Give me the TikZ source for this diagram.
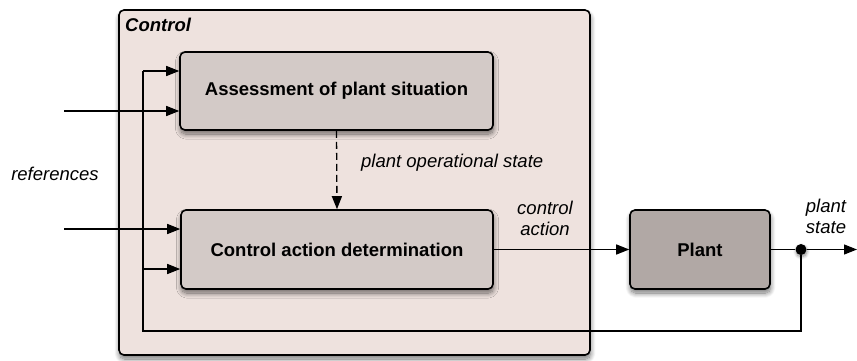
\documentclass[tikz,border=0pt]{standalone}
\usepackage{fontspec}
\setmainfont{Liberation Sans}
\usetikzlibrary{arrows.meta,shadows.blur}
\definecolor{ctrlfill}{HTML}{EEE2DE}
\definecolor{subfill}{HTML}{D3CAC7}
\definecolor{plantfill}{HTML}{B1A8A5}
\tikzset{
  boxshadow/.style={blur shadow={shadow blur steps=12,shadow xshift=0.5pt,shadow yshift=-4pt,shadow opacity=55,shadow blur radius=5pt}},
  ctrlbox/.style={draw=black,line width=1.6pt,rounded corners=5pt,fill=ctrlfill,inner sep=0pt,boxshadow},
  subbox/.style={draw=black,line width=1.6pt,rounded corners=5pt,fill=subfill,inner sep=0pt,font=\bfseries\fontsize{18.5}{21}\selectfont,boxshadow},
  plantbox/.style={subbox,fill=plantfill},
  wire/.style={draw=black,line width=1.3pt},
  arr/.style={wire,-{Triangle[length=13pt,width=10pt]}},
  lbl/.style={font=\itshape\fontsize{18.5}{21}\selectfont,inner sep=0pt,align=center},
  junction/.style={circle,fill=black,inner sep=0pt,minimum size=11pt,blur shadow={shadow blur steps=6,shadow xshift=0.5pt,shadow yshift=-2pt,shadow opacity=45,shadow blur radius=3pt}},
}
\begin{document}
\begin{tikzpicture}[x=1pt,y=-1pt]
\useasboundingbox (0,0) rectangle (857,360);

% outer controller frame
\node[ctrlbox,minimum width=471pt,minimum height=345pt] (ctrl) at (354.5,182.5) {};
\node[font=\bfseries\itshape\fontsize{18.5}{21}\selectfont,anchor=west,inner sep=0pt] (ctrltitle) at (125,25) {Control};

% function blocks
\node[subbox,minimum width=313pt,minimum height=78pt] (assess) at (336.5,91) {Assessment of plant situation};
\node[subbox,minimum width=312pt,minimum height=79pt] (cad) at (337,249.5) {Control action determination};
\node[plantbox,minimum width=140pt,minimum height=79pt] (plant) at (700,249.5) {Plant};

% measurement junction and signal ends
\node[junction] (dot) at (801,249.5) {};
\coordinate (out) at (857,249.5);
\coordinate (ref1) at (64,111);
\coordinate (ref2) at (64,229);
\coordinate (fb) at (143,331);
\coordinate (fbtop) at (143,71);
\coordinate (fbmid) at (143,269);

% reference inputs
\draw[arr] (ref1) -- (ref1 -| assess.west);
\draw[arr] (ref2) -- (ref2 -| cad.west);

% feedback loop
\draw[wire] (dot) |- (fb) -- (fbtop);
\draw[arr] (fbtop) -- (fbtop -| assess.west);
\draw[arr] (fbmid) -- (fbmid -| cad.west);

% internal and forward signals
\draw[arr,dash pattern=on 7pt off 4pt] (assess.south) -- (cad.north);
\draw[arr] (cad.east) -- (plant.west);
\draw[wire] (plant.east) -- (dot);
\draw[arr] (dot) -- (out);

% signal labels
\node[lbl] (reflbl) at (55,174) {references};
\node[lbl,anchor=west] (poslbl) at (361,163) {plant operational state};
\node[lbl] (calbl) at (545,218) {control\\action};
\node[lbl] (pslbl) at (826,216) {plant\\state};
\end{tikzpicture}
\end{document}
